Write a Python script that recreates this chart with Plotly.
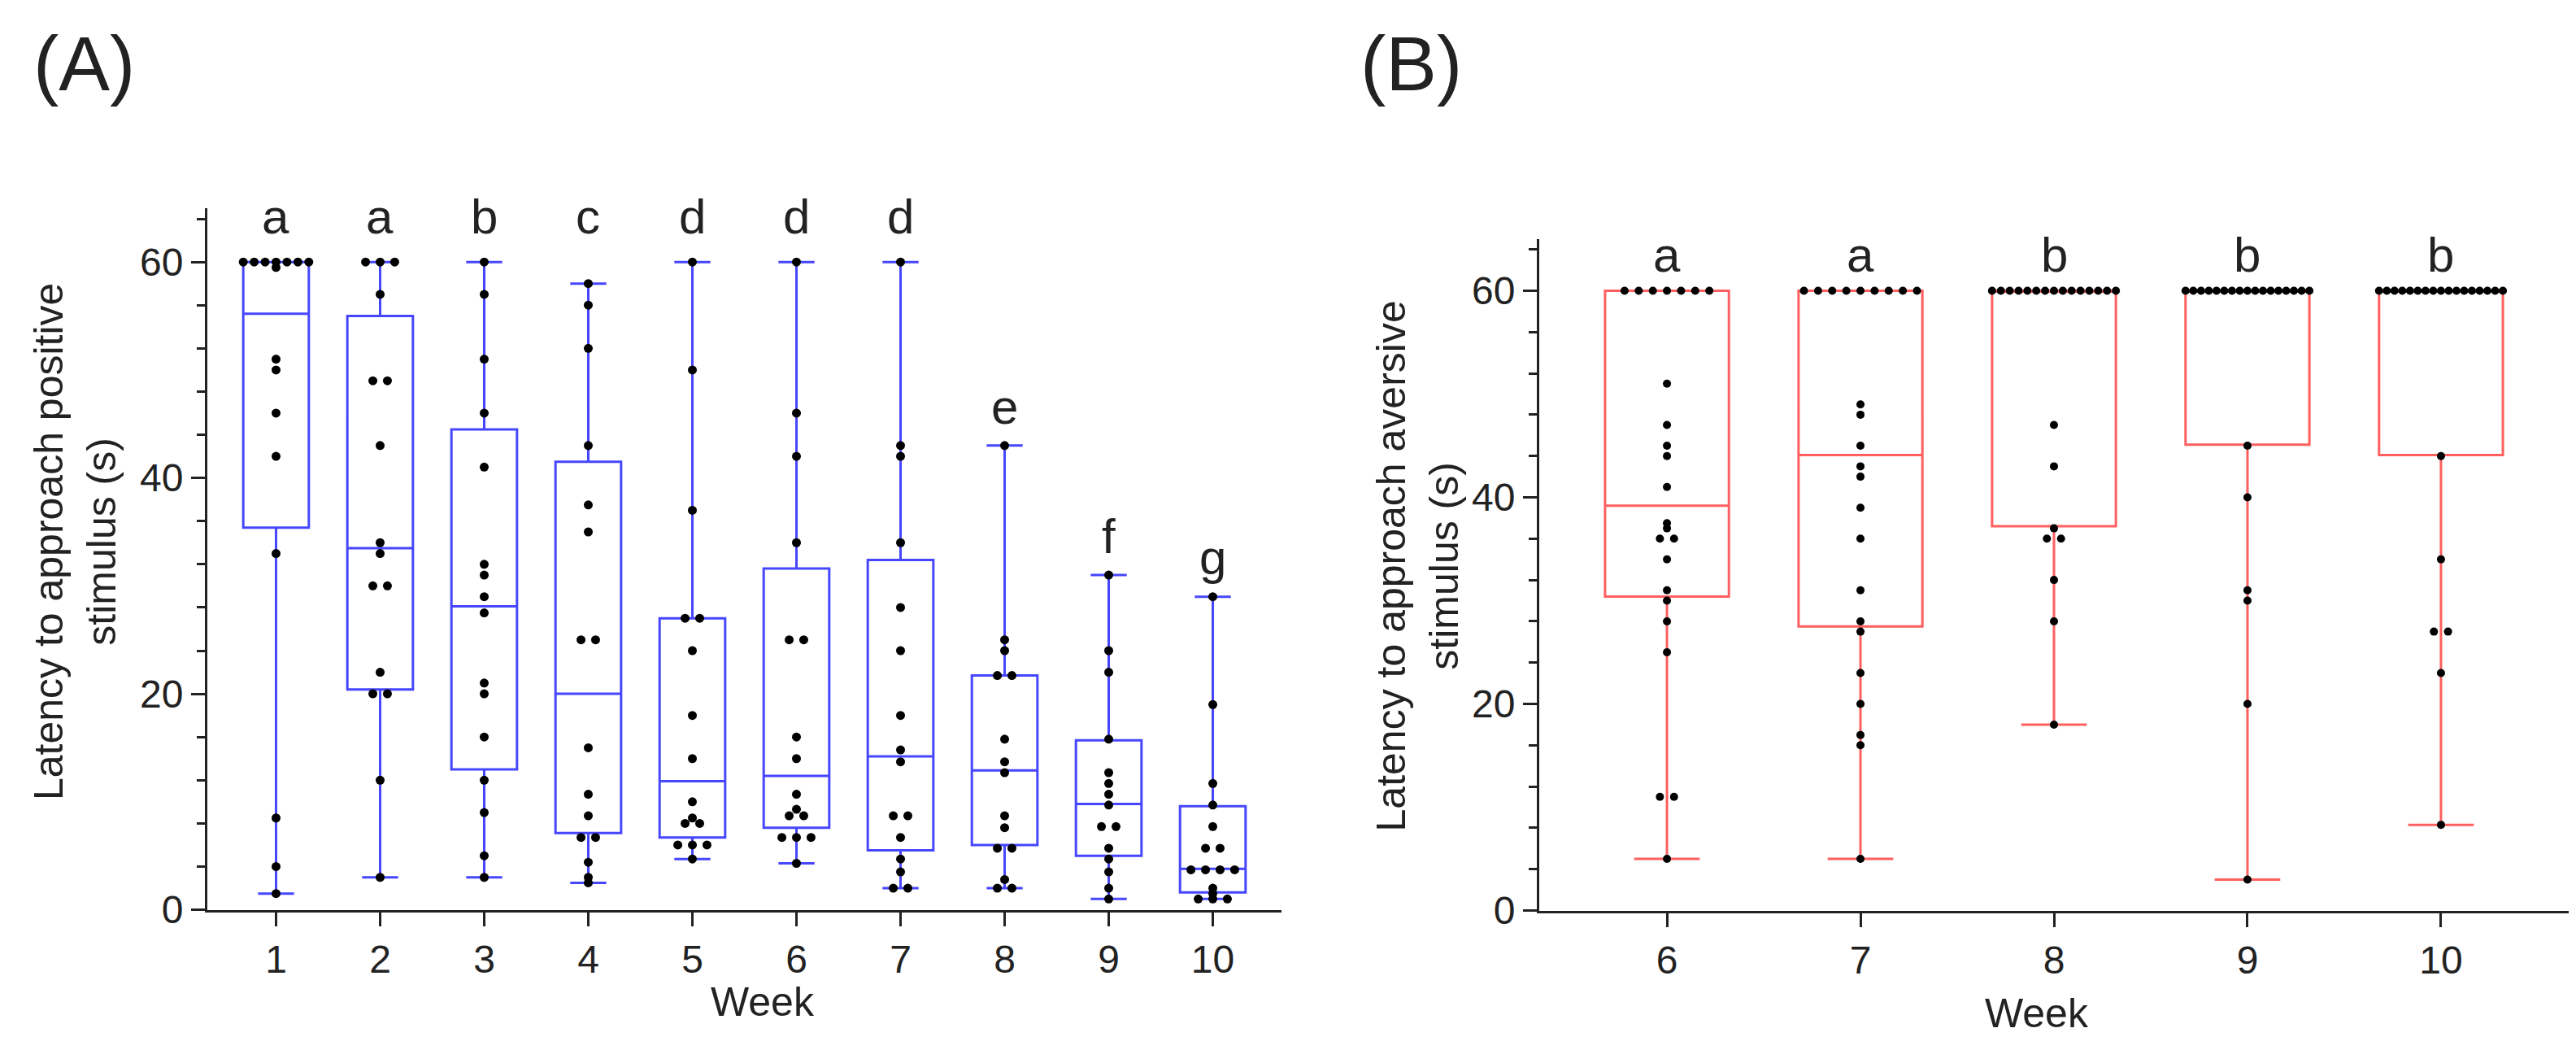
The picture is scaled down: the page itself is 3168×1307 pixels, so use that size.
"""
Kaks paneeli: latentsusaeg positiivse (A) ja aversiivse (B) stiimulini nädalate kaupa.
Karp = kvartiilid + mediaan, vurrud = min..max, mustad punktid = üksikud loomad.
"""

import plotly.graph_objects as go

# ---------------- andmed (loetud jooniselt) ----------------

WEEKS_A = [1, 2, 3, 4, 5, 6, 7, 8, 9, 10]
LETTERS_A = ["a", "a", "b", "c", "d", "d", "d", "e", "f", "g"]

week1_a = [60, 60, 60, 60, 60, 60, 60, 59.5, 51, 50, 46, 42, 33, 8.5, 4, 1.5]
week2_a = [60, 60, 60, 57, 49, 49, 43, 34, 33, 30, 30, 22, 20, 20, 12, 3]
week3_a = [60, 57, 51, 46, 41, 32, 31, 29, 27.5, 21, 20, 16, 12, 9, 5, 3]
week4_a = [58, 56, 52, 43, 37.5, 35, 25, 25, 15, 10.7, 8.7, 6.7, 6.7, 4.4, 3, 2.5]
week5_a = [60, 50, 37, 27, 27, 24, 18, 14, 10, 8.5, 8, 8, 6, 6, 6, 4.7]
week6_a = [60, 46, 42, 34, 25, 25, 16, 14, 10.7, 9.3, 8.7, 8.7, 6.7, 6.7, 6.7, 4.3]
week7_a = [60, 43, 42, 34, 28, 24, 18, 14.8, 13.7, 8.7, 8.7, 6.7, 4.7, 3.5, 2, 2]
week8_a = [43, 25, 24, 21.7, 21.7, 15.8, 13.7, 12.7, 8.7, 7.6, 5.7, 5.7, 2.8, 2, 2]
week9_a = [31, 24, 22, 15.8, 12.7, 11.7, 10.7, 9.7, 7.7, 7.7, 5.7, 4.7, 3.5, 2, 1]
week10_a = [29, 19, 11.7, 9.7, 7.7, 5.7, 5.7, 3.7, 3.7, 3.7, 3.7, 2, 1.5, 1, 1, 1]
POINTS_A = [week1_a, week2_a, week3_a, week4_a, week5_a,
            week6_a, week7_a, week8_a, week9_a, week10_a]

Q1_A = [35.4, 20.4, 13.0, 7.1, 6.7, 7.6, 5.5, 6.0, 5.0, 1.6]
MEDIAN_A = [55.2, 33.5, 28.1, 20.0, 11.9, 12.4, 14.2, 12.9, 9.8, 3.8]
Q3_A = [60, 55.0, 44.5, 41.5, 27.0, 31.6, 32.4, 21.7, 15.7, 9.6]

WEEKS_B = [6, 7, 8, 9, 10]
LETTERS_B = ["a", "a", "b", "b", "b"]

week6_b = [60, 60, 60, 60, 60, 60, 60,
           51, 47, 45, 44, 41, 37.5, 37, 36, 36, 34, 31, 30, 28, 25, 11, 11, 5]
week7_b = [60, 60, 60, 60, 60, 60, 60, 60, 60,
           49, 48, 45, 43, 42, 39, 36, 31, 28, 27, 23, 20, 17, 16, 5]
week8_b = [60, 60, 60, 60, 60, 60, 60, 60, 60, 60, 60, 60, 60, 60, 60,
           47, 43, 37, 36, 36, 32, 28, 18]
week9_b = [60, 60, 60, 60, 60, 60, 60, 60, 60, 60, 60, 60, 60, 60, 60, 60, 60,
           45, 40, 31, 30, 20, 3]
week10_b = [60, 60, 60, 60, 60, 60, 60, 60, 60, 60, 60, 60, 60, 60, 60, 60, 60,
            44, 34, 27, 27, 23, 8.3]
POINTS_B = [week6_b, week7_b, week8_b, week9_b, week10_b]

Q1_B = [30.4, 27.5, 37.2, 45.1, 44.1]
MEDIAN_B = [39.2, 44.1, 60, 60, 60]
Q3_B = [60, 60, 60, 60, 60]

# ---------------- stiil ----------------
BLUE = "#4646ff"
RED = "#ff5f5f"
AXIS = "#222222"
TEXT = "#222222"
FONT = "Liberation Sans, Arial, sans-serif"
W, H = 3168, 1307


def swarm_x(week, values, step, max_width):
    """Paigutab võrdsed väärtused kõrvuti (lihtne sümmeetriline beeswarm)."""
    xs = []
    seen = {}
    for v in values:
        count = values.count(v)
        i = seen.get(v, 0)
        seen[v] = i + 1
        spacing = step if count <= 1 else min(step, max_width / (count - 1))
        xs.append(week + (i - (count - 1) / 2) * spacing)
    return xs


def add_panel(fig, weeks, points, q1, med, q3, color, box_w, cap_w,
              step, dot, xref, yref):
    # karp + vurrud min..max
    fig.add_trace(go.Box(
        x=weeks, q1=q1, median=med, q3=q3,
        lowerfence=[min(p) for p in points],
        upperfence=[max(p) for p in points],
        width=box_w, whiskerwidth=cap_w,
        line=dict(color=color, width=3),
        fillcolor="rgba(0,0,0,0)",
        boxpoints=False, hoverinfo="skip", showlegend=False,
        xaxis=xref, yaxis=yref,
    ))
    # üksikud punktid
    xs, ys = [], []
    for w, p in zip(weeks, points):
        xs += swarm_x(w, p, step, box_w)
        ys += p
    fig.add_trace(go.Scatter(
        x=xs, y=ys, mode="markers",
        marker=dict(color="black", size=dot),
        cliponaxis=False, hoverinfo="skip", showlegend=False,
        xaxis=xref, yaxis=yref,
    ))


def letter_annotations(weeks, points, letters, top_row, xref, yref):
    ann = []
    for w, p, t in zip(weeks, points, letters):
        y = top_row if max(p) >= 55 else max(p) + 3.6
        ann.append(dict(x=w, y=y, xref=xref, yref=yref, text=t,
                        showarrow=False, xanchor="center", yanchor="middle",
                        font=dict(size=60, color=TEXT)))
    return ann


def paper_text(x_px, y_px, text, size, angle=0):
    """Tekst pikslikoordinaatides (vasak ülemine nurk = 0,0)."""
    return dict(x=x_px / W, y=1 - y_px / H, xref="paper", yref="paper",
                text=text, textangle=angle, showarrow=False,
                xanchor="center", yanchor="middle", align="center",
                font=dict(size=size, color=TEXT))


def axis_style(**kw):
    base = dict(showline=True, linecolor=AXIS, linewidth=3, mirror=False,
                ticks="outside", ticklen=17, tickwidth=3, tickcolor=AXIS,
                showgrid=False, zeroline=False,
                tickfont=dict(size=48, color=TEXT))
    base.update(kw)
    return base


fig = go.Figure()
add_panel(fig, WEEKS_A, POINTS_A, Q1_A, MEDIAN_A, Q3_A, BLUE,
          0.63, 0.55, 0.14, 11, "x", "y")
add_panel(fig, WEEKS_B, POINTS_B, Q1_B, MEDIAN_B, Q3_B, RED,
          0.64, 0.53, 0.073, 10, "x2", "y2")

y_minor = dict(tick0=0, dtick=4, ticks="outside", ticklen=10,
               tickwidth=3, tickcolor=AXIS)

annotations = []
annotations += letter_annotations(WEEKS_A, POINTS_A, LETTERS_A, 64.2, "x", "y")
annotations += letter_annotations(WEEKS_B, POINTS_B, LETTERS_B, 63.5, "x2", "y2")

# telgede pealkirjad ja paneelide tähised
annotations += [
    paper_text(84, 672, "Latency to approach positive<br>stimulus (s)", 50, -90),
    paper_text(1735, 703, "Latency to approach aversive<br>stimulus (s)", 50, -90),
    paper_text(930, 1250, "Week", 50),
    paper_text(2497, 1264, "Week", 50),
    paper_text(95, 72, "(A)", 94),
    paper_text(1728, 72, "(B)", 94),
]

fig.update_layout(
    width=W, height=H,
    margin=dict(l=0, r=0, t=0, b=0),
    paper_bgcolor="white", plot_bgcolor="white",
    font=dict(family=FONT, color=TEXT),
    xaxis=axis_style(domain=[247 / W, 1568 / W], range=[0.34, 10.66],
                     tickvals=WEEKS_A, anchor="y"),
    yaxis=axis_style(domain=[1 - 1134 / H, 1 - 253 / H], range=[0, 65],
                     tickvals=[0, 20, 40, 60], minor=y_minor, anchor="x"),
    xaxis2=axis_style(domain=[1885 / W, 3151 / W], range=[5.34, 10.66],
                      tickvals=WEEKS_B, anchor="y2"),
    yaxis2=axis_style(domain=[1 - 1135 / H, 1 - 292 / H], range=[0, 65],
                      tickvals=[0, 20, 40, 60], minor=y_minor, anchor="x2"),
    annotations=annotations,
)

fig.write_html("out.html")
